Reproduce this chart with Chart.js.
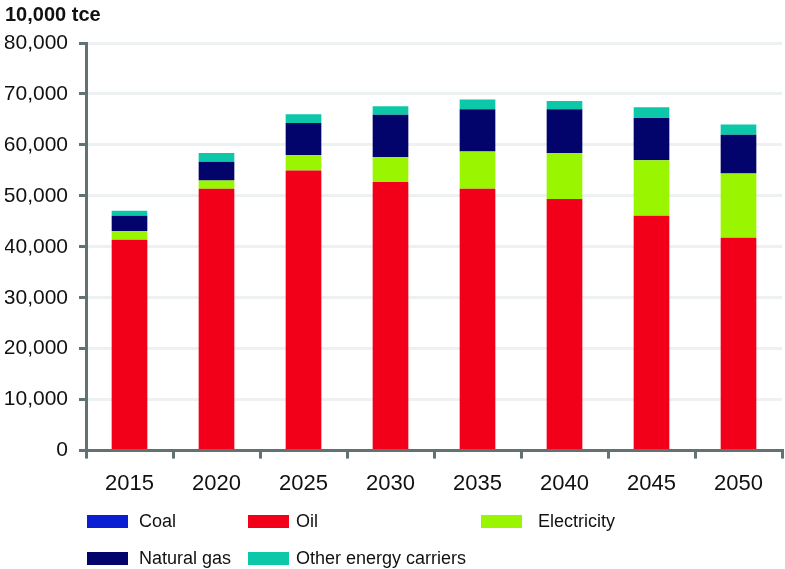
<!DOCTYPE html>
<html>
<head>
<meta charset="utf-8">
<script src="https://cdn.jsdelivr.net/npm/chart.js@4.4.0/dist/chart.umd.min.js"></script>
<style>
  html, body { margin: 0; padding: 0; background: #fff; }
  #wrap { position: relative; width: 785px; height: 569px; }
  #legend { position: absolute; left: 0; top: 0; width: 785px; height: 569px; pointer-events: none;
            font-family: "Liberation Sans", Arial, sans-serif; font-size: 18px; color: #111; }
  .item { position: absolute; display: flex; align-items: center; white-space: nowrap; height: 22px; }
  .box { width: 41px; height: 13px; }
</style>
</head>
<body>
<div id="wrap">
  <canvas id="energyChart" width="785" height="569"></canvas>
  <div id="legend"></div>
</div>
<script>
const years = ['2015', '2020', '2025', '2030', '2035', '2040', '2045', '2050'];
const coal = [300, 300, 300, 300, 300, 300, 300, 300];
const oil = [41100, 51100, 54700, 52400, 51100, 49100, 45800, 41500];
const electricity = [1700, 1600, 3000, 4900, 7300, 9000, 10900, 12600];
const naturalGas = [3000, 3700, 6300, 8300, 8300, 8600, 8300, 7600];
const otherCarriers = [1000, 1700, 1700, 1700, 1900, 1600, 2100, 2000];
const yTicks = [0, 10000, 20000, 30000, 40000, 50000, 60000, 70000, 80000];

const axisColor = '#627272';
const font = '"Liberation Sans", Arial, sans-serif';

const series = [
  { label: 'Coal', data: coal, color: '#0a1fd2' },
  { label: 'Oil', data: oil, color: '#f2001a' },
  { label: 'Electricity', data: electricity, color: '#99f500' },
  { label: 'Natural gas', data: naturalGas, color: '#02036b' },
  { label: 'Other energy carriers', data: otherCarriers, color: '#0cc8a8' }
];

const ctx = document.getElementById('energyChart').getContext('2d');
new Chart(ctx, {
  type: 'bar',
  data: {
    labels: years,
    datasets: series.map(s => ({
      label: s.label,
      data: s.data,
      backgroundColor: s.color,
      borderWidth: 0,
      barPercentage: 0.41,
      categoryPercentage: 1
    }))
  },
  options: {
    responsive: false,
    animation: false,
    layout: { padding: { top: 0, right: 3, bottom: 60, left: 5 } },
    plugins: {
      legend: { display: false },
      tooltip: { enabled: false },
      title: {
        display: true,
        text: '10,000 tce',
        align: 'start',
        color: '#111',
        font: { family: font, size: 20, weight: 'bold' },
        padding: { top: 3, bottom: 16 }
      }
    },
    scales: {
      x: {
        stacked: true,
        offset: true,
        border: { color: axisColor, width: 3 },
        grid: { drawOnChartArea: false, offset: true, color: axisColor, lineWidth: 3, tickLength: 8 },
        ticks: { color: '#111', font: { family: font, size: 22 }, padding: 12 }
      },
      y: {
        stacked: true,
        min: 0,
        max: 80000,
        afterBuildTicks: scale => { scale.ticks = yTicks.map(v => ({ value: v })); },
        afterFit: scale => { scale.width = 81; },
        border: { color: axisColor, width: 3 },
        grid: { color: '#edf1f1', lineWidth: 3, tickLength: 7, tickColor: axisColor },
        ticks: {
          color: '#111',
          font: { family: font, size: 21 },
          padding: 11,
          callback: v => v.toLocaleString('en-US')
        }
      }
    }
  }
});

// legend laid out like the original: two rows, fixed columns
// [box left, row centre, gap from box to text]
const legendSpots = [[87, 521, 11], [248, 521, 7], [481, 521, 16], [87, 558, 11], [248, 558, 7]];
const legend = document.getElementById('legend');
series.forEach((s, i) => {
  const [x, y, gap] = legendSpots[i];
  const item = document.createElement('div');
  item.className = 'item';
  item.style.left = x + 'px';
  item.style.top = (y - 11) + 'px';
  const box = document.createElement('div');
  box.className = 'box';
  box.style.background = s.color;
  box.style.marginRight = gap + 'px';
  const txt = document.createElement('span');
  txt.textContent = s.label;
  item.appendChild(box);
  item.appendChild(txt);
  legend.appendChild(item);
});
</script>
</body>
</html>
